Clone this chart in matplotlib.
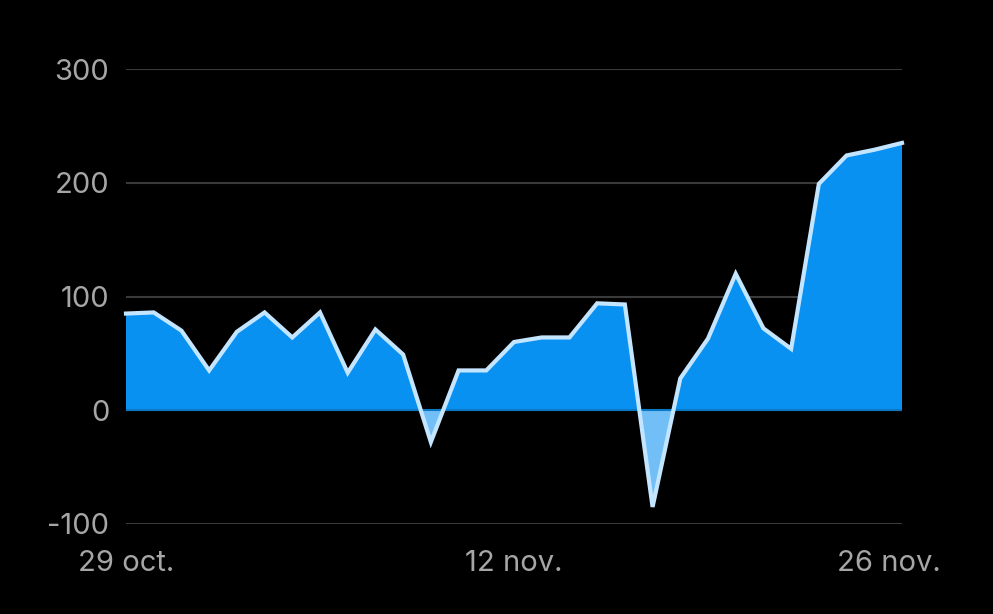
import matplotlib
matplotlib.use("Agg")
import matplotlib.pyplot as plt
import matplotlib.transforms as mtransforms
import numpy as np

# daily values, 29 oct -> 26 nov
values = [85, 86, 70, 35, 69, 86, 64, 86, 33, 71, 49, -28,
          35, 35, 60, 64, 64, 94, 93, -85,
          28, 63, 120, 72, 54, 199, 224, 229, 235]
tick_pos = [0, 14, 28]
tick_labels = ["29 oct.", "12 nov.", "26 nov."]
y_ticks = [-100, 0, 100, 200, 300]

plt.rcParams['font.family'] = ['Inter', 'DejaVu Sans']

x = np.arange(len(values))
y = np.array(values, dtype=float)

fig = plt.figure(figsize=(9.93, 6.14), dpi=100, facecolor="black")
ax = fig.add_axes([126/993, (614-524)/614, (902-126)/993, (524-69)/614])
ax.set_facecolor("black")

for t in y_ticks:
    if t != 0:
        ax.axhline(t, color="#3a3a3a", lw=1.5, zorder=1)

ax.fill_between(x, y, 0, where=y >= 0, interpolate=True, color="#0991F2", lw=0, zorder=2)
ax.fill_between(x, y, 0, where=y <= 0, interpolate=True, color="#72BEF7", lw=0, zorder=2)
ax.axhline(0, color="#0A78C4", lw=1.5, zorder=3)
ax.plot(x, y, color="#C4E5FF", lw=3, solid_joinstyle="miter", zorder=4, clip_on=False)

ax.set_xlim(0, 28)
ax.set_ylim(-100, 300)
ax.set_yticks(y_ticks)
ax.set_yticklabels([str(t) for t in y_ticks])
ax.set_xticks(tick_pos)
ax.set_xticklabels(tick_labels)
ax.tick_params(length=0, colors="#a6a6a6", labelsize=21)
ax.tick_params(axis="y", pad=12)
ax.tick_params(axis="x", pad=19)
for s in ax.spines.values():
    s.set_visible(False)

# last date label sits a little left of its tick
lbl = ax.get_xticklabels()[-1]
lbl.set_transform(lbl.get_transform() + mtransforms.ScaledTranslation(-13/100, 0, fig.dpi_scale_trans))

fig.savefig("out.png", dpi=100, facecolor="black")
